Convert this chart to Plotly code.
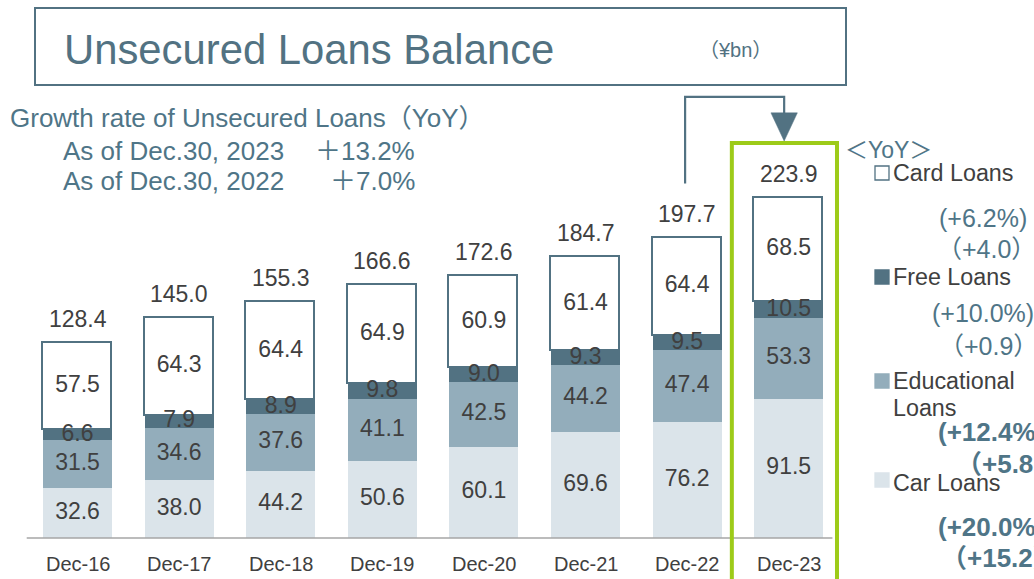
import plotly.graph_objects as go

# ---------------- data ----------------
categories = ["Dec-16", "Dec-17", "Dec-18", "Dec-19", "Dec-20", "Dec-21", "Dec-22", "Dec-23"]
car_loans = [32.6, 38.0, 44.2, 50.6, 60.1, 69.6, 76.2, 91.5]
educational_loans = [31.5, 34.6, 37.6, 41.1, 42.5, 44.2, 47.4, 53.3]
free_loans = [6.6, 7.9, 8.9, 9.8, 9.0, 9.3, 9.5, 10.5]
card_loans = [57.5, 64.3, 64.4, 64.9, 60.9, 61.4, 64.4, 68.5]
totals = [128.4, 145.0, 155.3, 166.6, 172.6, 184.7, 197.7, 223.9]

# ---------------- styles ----------------
W, H = 1034, 579
FONT = "Liberation Sans, Arial, Noto Sans CJK JP, sans-serif"
STEEL = "#527282"
STEEL_TXT = "#4f7587"
DARK = "#404040"
C_CAR = "#dbe4ea"
C_EDU = "#93adbb"
C_FREE = "#527282"
C_CARD = "#ffffff"
GREEN = "#9dcb19"

def px(x):
    return x / W

def py(y):
    return 1 - y / H

xs = list(range(len(categories)))

fig = go.Figure()
series = [
    ("Car Loans", car_loans, C_CAR, 0),
    ("Educational Loans", educational_loans, C_EDU, 0),
    ("Free Loans", free_loans, C_FREE, 0),
    ("Card Loans", card_loans, C_CARD, 1.6),
]
for name, vals, col, lw in series:
    fig.add_trace(go.Bar(
        x=xs, y=vals, name=name, width=0.68,
        marker=dict(color=col, line=dict(color=STEEL, width=lw)),
        showlegend=False, hoverinfo="skip",
    ))

# segment labels
base = [0.0] * len(xs)
for name, vals, col, lw in series:
    mids = [b + v / 2 for b, v in zip(base, vals)]
    fig.add_trace(go.Scatter(
        x=xs, y=mids, mode="text", text=[f"{v:.1f}" for v in vals],
        textposition="middle center",
        textfont=dict(family=FONT, size=23, color=DARK),
        showlegend=False, hoverinfo="skip",
    ))
    base = [b + v for b, v in zip(base, vals)]

annotations = []
# totals
for i, (t, top) in enumerate(zip(totals, base)):
    annotations.append(dict(x=i, y=top, xref="x", yref="y", text=f"{t:.1f}",
                            showarrow=False, yshift=24, yanchor="middle",
                            font=dict(family=FONT, size=23, color=DARK)))
# category labels
for i, c in enumerate(categories):
    annotations.append(dict(x=i, y=0, xref="x", yref="y", text=c,
                            showarrow=False, yshift=-26, yanchor="middle",
                            font=dict(family=FONT, size=20, color=DARK)))

def ann(x, y, text, size, color, xanchor="left", bold=False):
    if bold:
        text = f"<b>{text}</b>"
    annotations.append(dict(x=px(x), y=py(y), xref="paper", yref="paper", text=text,
                            showarrow=False, xanchor=xanchor, yanchor="middle",
                            font=dict(family=FONT, size=size, color=color)))

# title
ann(62, 49, "Unsecured Loans Balance", 41.8, STEEL)
ann(697, 50, "（¥bn）", 20, STEEL)
# growth text
ann(8, 118, "Growth rate of Unsecured Loans（YoY）", 26, STEEL_TXT)
ann(61, 151, "As of Dec.30, 2023", 26, STEEL_TXT)
ann(417, 151, "＋13.2%", 26, STEEL_TXT, xanchor="right")
ann(61, 181, "As of Dec.30, 2022", 26, STEEL_TXT)
ann(417, 181, "＋7.0%", 26, STEEL_TXT, xanchor="right")

# legend block
ann(843, 150, "＜YoY＞", 23, STEEL_TXT)
ann(891, 173, "Card Loans", 23.3, DARK)
ann(983, 218, "(+6.2%)", 25, STEEL_TXT, xanchor="center")
ann(986, 249, "（+4.0）", 25, STEEL_TXT, xanchor="center")
ann(891, 277, "Free Loans", 23.3, DARK)
ann(983, 313, "(+10.0%)", 25, STEEL_TXT, xanchor="center")
ann(988, 346, "（+0.9）", 25, STEEL_TXT, xanchor="center")
ann(891, 381, "Educational", 23.3, DARK)
ann(891, 408, "Loans", 23.3, DARK)
ann(936, 432, "(+12.4%)", 26, STEEL_TXT, bold=True)
ann(954, 464, "（+5.8）", 26, STEEL_TXT, bold=True)
ann(936, 527, "(+20.0%)", 26, STEEL_TXT, bold=True)
ann(939, 558, "（+15.2）", 26, STEEL_TXT, bold=True)
ann(891, 483, "Car Loans", 23.3, DARK)

shapes = []
# title box
shapes.append(dict(type="rect", xref="paper", yref="paper",
                   x0=px(35), x1=px(846), y0=py(85), y1=py(8),
                   line=dict(color=STEEL, width=2), fillcolor="rgba(0,0,0,0)"))
# legend squares
for (y0, y1, fill, lc) in [(166, 180, "#ffffff", STEEL), (270, 284, C_FREE, C_FREE),
                           (374, 388, C_EDU, C_EDU), (473, 487, C_CAR, C_CAR)]:
    shapes.append(dict(type="rect", xref="paper", yref="paper",
                       x0=px(875), x1=px(889), y0=py(y1), y1=py(y0),
                       line=dict(color=lc, width=1.3), fillcolor=fill))
# baseline
shapes.append(dict(type="line", xref="x", yref="y", x0=-0.5, x1=7.43, y0=0, y1=0,
                   line=dict(color="#a6a6a6", width=1.5), layer="above"))
# highlight box around last bar
shapes.append(dict(type="rect", xref="x", yref="y", x0=6.44, x1=7.475, y0=-40, y1=259.7,
                   line=dict(color=GREEN, width=4), fillcolor="rgba(0,0,0,0)"))
# arrow from Dec-22 to Dec-23
shapes.append(dict(type="path", xref="x", yref="y",
                   path="M 5.98,233 L 5.98,290 L 6.955,290 L 6.955,279",
                   line=dict(color=STEEL, width=2.2)))
shapes.append(dict(type="path", xref="x", yref="y",
                   path="M 6.825,279.5 L 7.085,279.5 L 6.955,261 Z",
                   line=dict(color=STEEL, width=0.5), fillcolor=STEEL))

fig.update_layout(
    width=W, height=H, autosize=False,
    margin=dict(l=0, r=0, t=0, b=0),
    paper_bgcolor="white", plot_bgcolor="white",
    barmode="stack", bargap=0,
    xaxis=dict(range=[-0.763, 9.414], visible=False, fixedrange=True),
    yaxis=dict(range=[-26.96, 353.7], visible=False, fixedrange=True),
    annotations=annotations, shapes=shapes,
    font=dict(family=FONT),
)

fig.write_html("out.html", config={"displayModeBar": False},
               post_script="document.body.style.margin='0';document.body.style.overflow='hidden';")
